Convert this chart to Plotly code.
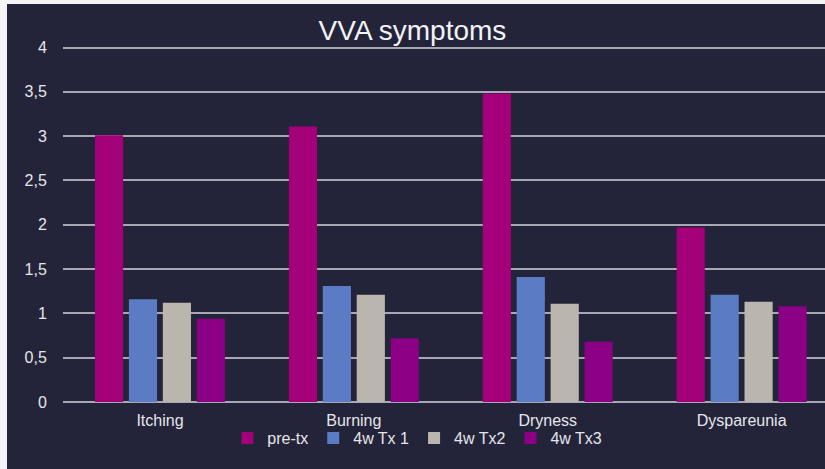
import plotly.graph_objects as go

categories = ["Itching", "Burning", "Dryness", "Dyspareunia"]
series_names = ["pre-tx", "4w Tx 1", "4w Tx2", "4w Tx3"]
pre_tx = [3.01, 3.11, 3.48, 1.97]
tx1 = [1.16, 1.31, 1.41, 1.21]
tx2 = [1.12, 1.21, 1.11, 1.13]
tx3 = [0.94, 0.72, 0.68, 1.08]
colors = ["#a3007a", "#5a7cc4", "#bab6ad", "#8c0085"]
y_ticks = [0, 0.5, 1, 1.5, 2, 2.5, 3, 3.5, 4]
y_tick_labels = ["0", "0,5", "1", "1,5", "2", "2,5", "3", "3,5", "4"]

W, H = 825, 469
L, R, T, B = 63, 0, 44, 67
pw, ph = W - L - R, H - T - B

def px(x):
    return (x - L) / pw

def py(y):
    return (H - B - y) / ph

fig = go.Figure()
for name, vals, col in zip(series_names, [pre_tx, tx1, tx2, tx3], colors):
    fig.add_trace(go.Bar(x=categories, y=vals, name=name, marker_color=col,
                         marker_line_width=0))

bg = "#23243a"
fig.add_shape(type="rect", xref="paper", yref="paper",
              x0=px(7), x1=px(W), y0=py(H), y1=py(4),
              fillcolor=bg, line_width=0, layer="below")

fig.update_layout(
    width=W, height=H,
    paper_bgcolor="#f4f4f6", plot_bgcolor="rgba(0,0,0,0)",
    font=dict(family="Liberation Sans, Arial, sans-serif", color="#e6e6ea", size=14),
    margin=dict(l=L, r=R, t=T, b=B),
    barmode="group", bargap=0.3, bargroupgap=0.17,
    title=dict(text="VVA symptoms", x=0.5, xanchor="center", y=1 - 30 / H, yanchor="middle",
               font=dict(size=28, color="#f2f2f5")),
    showlegend=True,
    legend=dict(orientation="h", x=0.465, xanchor="center", y=py(438), yanchor="middle",
                font=dict(size=16, color="#e6e6ea"), bgcolor="rgba(0,0,0,0)",
                itemwidth=30, tracegroupgap=0),
    xaxis=dict(range=[-0.5, 3.43], showgrid=False, zeroline=False, showline=False,
               ticks="", ticklabelstandoff=7, tickfont=dict(size=16, color="#e6e6ea")),
    yaxis=dict(range=[0, 4.04], tickvals=y_ticks, ticktext=y_tick_labels,
               showgrid=True, gridcolor="#a8a8b4", gridwidth=1.5,
               zeroline=True, zerolinecolor="#a8a8b4", zerolinewidth=1.5,
               showline=False, ticks="outside", ticklen=12, tickcolor=bg,
               tickfont=dict(size=16, color="#e6e6ea")),
)

fig.write_html("out.html", config={"displayModeBar": False},
               post_script="document.body.style.margin='0';")
